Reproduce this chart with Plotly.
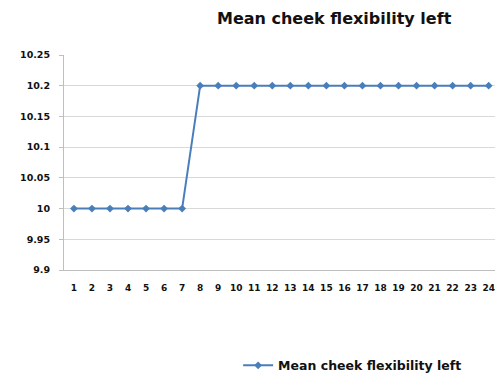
import plotly.graph_objects as go

# Mean cheek flexibility (left side) across sessions
sessions = list(range(1, 25))
mean_flex_left = [10.0] * 7 + [10.2] * 17
series_name = "Mean cheek flexibility left"
chart_title = "Mean cheek flexibility left"
y_ticks = [9.9, 9.95, 10.0, 10.05, 10.1, 10.15, 10.2, 10.25]
y_tick_text = ["9.9", "9.95", "10", "10.05", "10.1", "10.15", "10.2", "10.25"]

LINE = "#4a7ebb"
FONT = "DejaVu Sans"

fig = go.Figure()
fig.add_trace(go.Scatter(
    x=sessions, y=mean_flex_left, mode="lines+markers", name="<b>" + series_name + "</b>",
    line=dict(color=LINE, width=2),
    marker=dict(symbol="diamond", size=6, color=LINE),
    cliponaxis=False,
))

fig.update_layout(
    width=495, height=377,
    margin=dict(l=64, r=0, t=55, b=107, autoexpand=False),
    paper_bgcolor="white", plot_bgcolor="white",
    font=dict(family=FONT, color="#111", size=9),
    title=dict(text="<b>" + chart_title + "</b>", x=0.675, xanchor="center",
               y=0.952, yanchor="middle", font=dict(size=16, family=FONT, color="#111")),
    showlegend=True,
    legend=dict(orientation="h", x=0.404, xanchor="left", y=-0.445, yanchor="middle",
                font=dict(size=12.5, family=FONT, color="#111"),
                itemwidth=30, bgcolor="rgba(0,0,0,0)"),
)
fig.update_xaxes(
    range=[0.45, 24.35], tickmode="array", tickvals=sessions,
    ticktext=["<b>%d</b>" % s for s in sessions],
    showgrid=False, showline=True, linecolor="#bfbfbf", linewidth=1,
    ticks="", tickfont=dict(size=9), ticklabelstandoff=9, zeroline=False,
)
fig.update_yaxes(
    range=[9.9, 10.25], tickmode="array", tickvals=y_ticks,
    ticktext=["<b>%s</b>" % t for t in y_tick_text],
    showgrid=True, gridcolor="#d9d9d9", gridwidth=1,
    showline=True, linecolor="#bfbfbf", linewidth=1,
    ticks="outside", ticklen=4, tickcolor="#bfbfbf",
    tickfont=dict(size=9.5), ticklabelstandoff=7, zeroline=False,
)

fig.write_html("out.html")
